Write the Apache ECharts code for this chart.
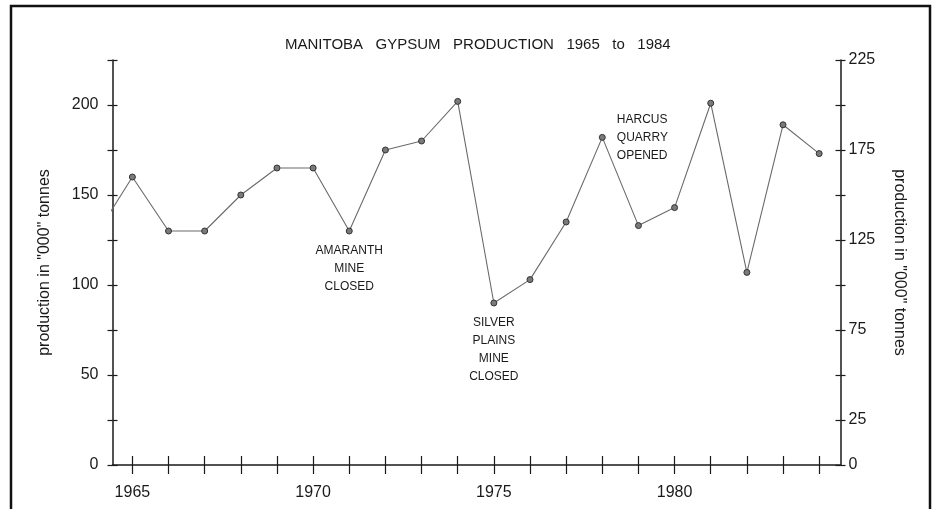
<!DOCTYPE html>
<html>
<head>
<meta charset="utf-8">
<script src="https://cdn.jsdelivr.net/npm/echarts@6/dist/echarts.min.js"></script>
<style>
  html, body { margin: 0; padding: 0; background: #fff; }
  #chart { width: 934px; height: 509px; }
</style>
</head>
<body>
<div id="chart"></div>
<script>
// yearly production, '000 tonnes (1964 runs off the left edge)
const years = [1964, 1965, 1966, 1967, 1968, 1969, 1970, 1971, 1972, 1973, 1974,
               1975, 1976, 1977, 1978, 1979, 1980, 1981, 1982, 1983, 1984];
const production = [128, 160, 130, 130, 150, 165, 165, 130, 175, 180, 202,
                    90, 103, 135, 182, 133, 143, 201, 107, 189, 173];

const tickYears = [1965, 1966, 1967, 1968, 1969, 1970, 1971, 1972, 1973, 1974,
                   1975, 1976, 1977, 1978, 1979, 1980, 1981, 1982, 1983, 1984];
const labelYears = [1965, 1970, 1975, 1980];
const leftLabels = [0, 50, 100, 150, 200];
const rightLabels = [0, 25, 75, 125, 175, 225];

const noteYears = [1971, 1975, 1978];
const noteTexts = ['AMARANTH\nMINE\nCLOSED', 'SILVER\nPLAINS\nMINE\nCLOSED', 'HARCUS\nQUARRY\nOPENED'];

const FONT = '"Liberation Sans", Arial, Helvetica, sans-serif';
const INK = '#1a1a1a';

const notePlacement = {
  1971: { position: 'bottom', distance: 7, align: 'center' },
  1975: { position: 'bottom', distance: 7, align: 'center' },
  1978: { position: 'right', distance: 11, align: 'left' }
};

const seriesData = years.map((y, i) => {
  const item = { value: [y, production[i]] };
  const k = noteYears.indexOf(y);
  if (k >= 0) {
    const p = notePlacement[y];
    item.label = {
      show: true,
      formatter: noteTexts[k],
      position: p.position,
      distance: p.distance,
      align: p.align,
      fontFamily: FONT,
      fontSize: 12,
      lineHeight: 18,
      color: INK
    };
  }
  return item;
});

const xMin = 1964.45, xMax = 1984.59;

const chart = echarts.init(document.getElementById('chart'));

const yBase = {
  type: 'value',
  min: 0,
  max: 225,
  interval: 25,
  splitLine: { show: false },
  axisLine: { show: true, lineStyle: { color: INK, width: 1.5 } }
};

chart.setOption({
  backgroundColor: '#fff',
  animation: false,
  title: {
    text: 'MANITOBA   GYPSUM   PRODUCTION   1965   to   1984',
    left: 280,
    top: 32,
    textStyle: { fontFamily: FONT, fontSize: 15, fontWeight: 'normal', color: INK }
  },
  grid: { left: 112.5, right: 93.5, top: 60, bottom: 44, outerBoundsMode: 'none' },
  graphic: [{
    type: 'rect',
    shape: { x: 11, y: 6, width: 919, height: 520 },
    style: { fill: 'none', stroke: '#111', lineWidth: 2.5 },
    silent: true
  }],
  xAxis: [{
    type: 'value',
    min: xMin,
    max: xMax,
    splitLine: { show: false },
    axisLine: { onZero: false, lineStyle: { color: INK, width: 1.5 } },
    axisTick: { show: true, customValues: tickYears, length: 9, lineStyle: { color: INK, width: 1.2 } },
    axisLabel: {
      customValues: labelYears,
      formatter: v => String(v),
      margin: 20,
      fontFamily: FONT, fontSize: 16, color: INK
    }
  }, {
    type: 'value',
    position: 'bottom',
    min: xMin,
    max: xMax,
    splitLine: { show: false },
    axisLine: { show: false, onZero: false },
    axisTick: { show: true, inside: true, customValues: tickYears, length: 9, lineStyle: { color: INK, width: 1.2 } },
    axisLabel: { show: false }
  }],
  yAxis: [
    Object.assign({}, yBase, {
      position: 'left',
      name: 'production in "000" tonnes',
      nameLocation: 'middle',
      nameGap: 60,
      nameTextStyle: { fontFamily: FONT, fontSize: 16, color: INK },
      axisTick: { show: true, length: 5, lineStyle: { color: INK, width: 1.2 } },
      axisLabel: {
        margin: 14,
        formatter: v => leftLabels.indexOf(v) >= 0 ? String(v) : '',
        fontFamily: FONT, fontSize: 16, color: INK
      }
    }),
    Object.assign({}, yBase, {
      position: 'right',
      name: 'production in "000" tonnes',
      nameLocation: 'middle',
      nameRotate: -90,
      nameGap: 51,
      nameTextStyle: { fontFamily: FONT, fontSize: 16, color: INK },
      axisTick: { show: true, length: 5, lineStyle: { color: INK, width: 1.2 } },
      axisLabel: {
        margin: 8,
        formatter: v => rightLabels.indexOf(v) >= 0 ? String(v) : '',
        fontFamily: FONT, fontSize: 16, color: INK
      }
    }),
    Object.assign({}, yBase, {
      position: 'left',
      axisLine: { show: false },
      axisTick: { show: true, inside: true, length: 5, lineStyle: { color: INK, width: 1.2 } },
      axisLabel: { show: false }
    }),
    Object.assign({}, yBase, {
      position: 'right',
      axisLine: { show: false },
      axisTick: { show: true, inside: true, length: 5, lineStyle: { color: INK, width: 1.2 } },
      axisLabel: { show: false }
    })
  ],
  series: [{
    type: 'line',
    xAxisIndex: 0,
    yAxisIndex: 0,
    data: seriesData,
    clip: true,
    symbol: 'circle',
    symbolSize: 6,
    showAllSymbol: true,
    lineStyle: { color: '#6a6a6a', width: 1.1 },
    itemStyle: { color: '#7a7a7a', borderColor: '#333', borderWidth: 1 },
    label: { show: false }
  }]
});
</script>
</body>
</html>
